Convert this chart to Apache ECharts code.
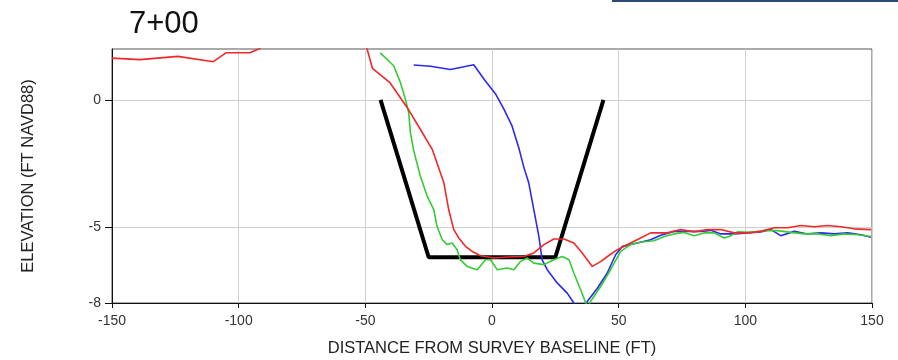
<!DOCTYPE html>
<html>
<head>
<meta charset="utf-8">
<script src="https://cdn.jsdelivr.net/npm/echarts@6/dist/echarts.min.js"></script>
<style>
  html, body { margin: 0; padding: 0; background: #fff; }
  #chart { width: 898px; height: 360px; }
</style>
</head>
<body>
<div id="chart"></div>
<script>
// Station label and axis settings
const stationTitle = '7+00';
const xTicks = [-150, -100, -50, 0, 50, 100, 150];
const yTicks = [-8, -5, 0];

// Design template section (distance, elevation)
const template = [[-44, 0], [-25, -6.2], [25, -6.2], [44, 0]];

// Surveyed profiles (distance, elevation)
const profileRed = [
  [-150, 1.64], [-139, 1.58], [-124, 1.71], [-110, 1.50], [-105, 1.85], [-95.5, 1.85],
  [-91.5, 2.03], [-88, 2.3], [-70, 2.5], [-52, 2.4], [-49.3, 2.0], [-47.2, 1.24],
  [-40.4, 0.69], [-33.5, -0.30], [-28.3, -1.16], [-23.6, -1.95], [-19, -3.27],
  [-17.1, -4.32], [-15.1, -5.11], [-13.1, -5.44], [-10.5, -5.77], [-7.8, -5.97],
  [-4.5, -6.14], [0.7, -6.23], [6, -6.19], [12.6, -6.17], [16.5, -6.03], [20.5, -5.7],
  [24.4, -5.48], [28.4, -5.48], [32.3, -5.64], [35.6, -6.03], [39.6, -6.56], [43, -6.36],
  [46.5, -6.1], [49.5, -5.9], [54.7, -5.64], [58.7, -5.44], [62.6, -5.24], [69.2, -5.24],
  [74.5, -5.11], [79.8, -5.2], [85.1, -5.11], [90.3, -5.11], [95.6, -5.24], [100.9, -5.24],
  [106.1, -5.18], [111.4, -5.04], [116.7, -5.04], [121.9, -4.95], [127.2, -5.0],
  [132.5, -4.95], [137.7, -5.0], [143, -5.08], [149.6, -5.11]
];
const profileGreen = [
  [-44.1, 1.85], [-38.8, 1.34], [-36.2, 0.69], [-34.2, 0.03], [-32.9, -0.5], [-32.2, -1.29],
  [-30.9, -2.0], [-28.3, -3.0], [-25.6, -3.79], [-23, -4.32], [-21.7, -4.98], [-19.7, -5.5],
  [-17.7, -5.7], [-15.7, -5.64], [-13.8, -5.9], [-12.5, -6.3], [-9.8, -6.56], [-5.8, -6.69],
  [-2.6, -6.3], [-0.6, -6.3], [2.1, -6.69], [6, -6.62], [8.6, -6.69], [11.3, -6.36],
  [13.9, -6.23], [16.5, -6.43], [20.5, -6.49], [24.4, -6.3], [27.7, -6.17], [30.4, -6.3],
  [32.3, -6.82], [35, -7.48], [37, -8.0], [38, -8.15], [38.9, -7.94], [42.9, -7.35],
  [46.8, -6.69], [50.8, -5.97], [54.7, -5.7], [58.7, -5.6], [64, -5.55], [67.9, -5.38],
  [71.9, -5.28], [75.8, -5.22], [79.8, -5.35], [83.7, -5.24], [87.7, -5.24], [91.6, -5.44],
  [93.6, -5.38], [96.9, -5.2], [102.2, -5.22], [107.4, -5.15], [112.7, -5.15], [118, -5.22],
  [123.2, -5.28], [128.5, -5.28], [133.8, -5.35], [139, -5.28], [144.3, -5.31], [149.6, -5.38]
];
const profileBlue = [
  [-30.9, 1.37], [-24.3, 1.32], [-16.4, 1.19], [-7.2, 1.38], [-3.2, 0.82], [1.4, 0.23],
  [4.7, -0.37], [7.9, -1.03], [10.6, -1.9], [12.6, -2.67], [14.5, -3.27], [16.5, -4.32],
  [18.5, -5.38], [19.8, -6.3], [21.8, -6.69], [25.8, -7.22], [29.7, -7.61], [32.3, -8.0],
  [34.5, -8.3], [37, -8.1], [37.6, -7.94], [41.6, -7.42], [45.5, -6.82], [48.8, -6.1],
  [51.5, -5.77], [57.4, -5.64], [62.6, -5.51], [66.6, -5.33], [71.9, -5.18], [77.2, -5.18],
  [82.4, -5.18], [86.4, -5.14], [90.3, -5.28], [95.6, -5.28], [100.9, -5.24], [106.1, -5.2],
  [110.1, -5.11], [114, -5.35], [119.3, -5.18], [124.6, -5.28], [129.8, -5.24], [135.1, -5.28],
  [140.4, -5.24], [145.7, -5.31], [149.6, -5.41]
];

const fontFamily = '"Liberation Sans", Arial, sans-serif';
const chart = echarts.init(document.getElementById('chart'), null, { renderer: 'canvas' });

function profileSeries(name, data, color) {
  return {
    name, type: 'line', data, showSymbol: false, clip: true,
    lineStyle: { color, width: 1.6 }, z: 3
  };
}

chart.setOption({
  animation: false,
  backgroundColor: '#ffffff',
  title: {
    text: stationTitle,
    left: 124, top: 4,
    textStyle: { fontFamily, fontSize: 31, fontWeight: 'normal', color: '#111' }
  },
  graphic: [{
    type: 'rect', left: 612, top: 0,
    shape: { width: 286, height: 2 },
    style: { fill: '#2e4a7a' }
  }],
  grid: {
    left: 112, right: 26, top: 49, bottom: 57,
    outerBoundsMode: 'none', containLabel: false,
    show: true, borderColor: '#555', borderWidth: 1, backgroundColor: 'transparent'
  },
  xAxis: {
    type: 'value', min: -150, max: 150, interval: 50,
    name: 'DISTANCE FROM SURVEY BASELINE (FT)',
    nameLocation: 'middle', nameGap: 37,
    nameTextStyle: { fontFamily, fontSize: 16.5, color: '#222' },
    axisLine: { show: true, onZero: false, lineStyle: { color: '#111', width: 1 } },
    axisTick: { show: true, length: 5, lineStyle: { color: '#111' } },
    axisLabel: { fontFamily, fontSize: 14, color: '#333', margin: 11 },
    splitLine: { show: true, lineStyle: { color: '#d0d0d0', width: 1 } }
  },
  yAxis: {
    type: 'value', min: -8, max: 2,
    name: 'ELEVATION (FT NAVD88)',
    nameLocation: 'middle', nameGap: 75, nameRotate: 90,
    nameTextStyle: { fontFamily, fontSize: 16.5, color: '#222' },
    axisLine: { show: true, onZero: false, lineStyle: { color: '#111', width: 1 } },
    axisTick: { show: true, length: 7, customValues: yTicks, lineStyle: { color: '#111' } },
    axisLabel: { fontFamily, fontSize: 14, color: '#333', margin: 11, customValues: yTicks },
    splitLine: { show: true, lineStyle: { color: '#d0d0d0', width: 1 } }
  },
  series: [
    {
      name: 'Template', type: 'line', data: template, showSymbol: false, clip: true,
      lineStyle: { color: '#000', width: 4 }, z: 2
    },
    profileSeries('Blue', profileBlue, '#2a2af0'),
    profileSeries('Green', profileGreen, '#33cc33'),
    profileSeries('Red', profileRed, '#f02828')
  ]
});
</script>
</body>
</html>
